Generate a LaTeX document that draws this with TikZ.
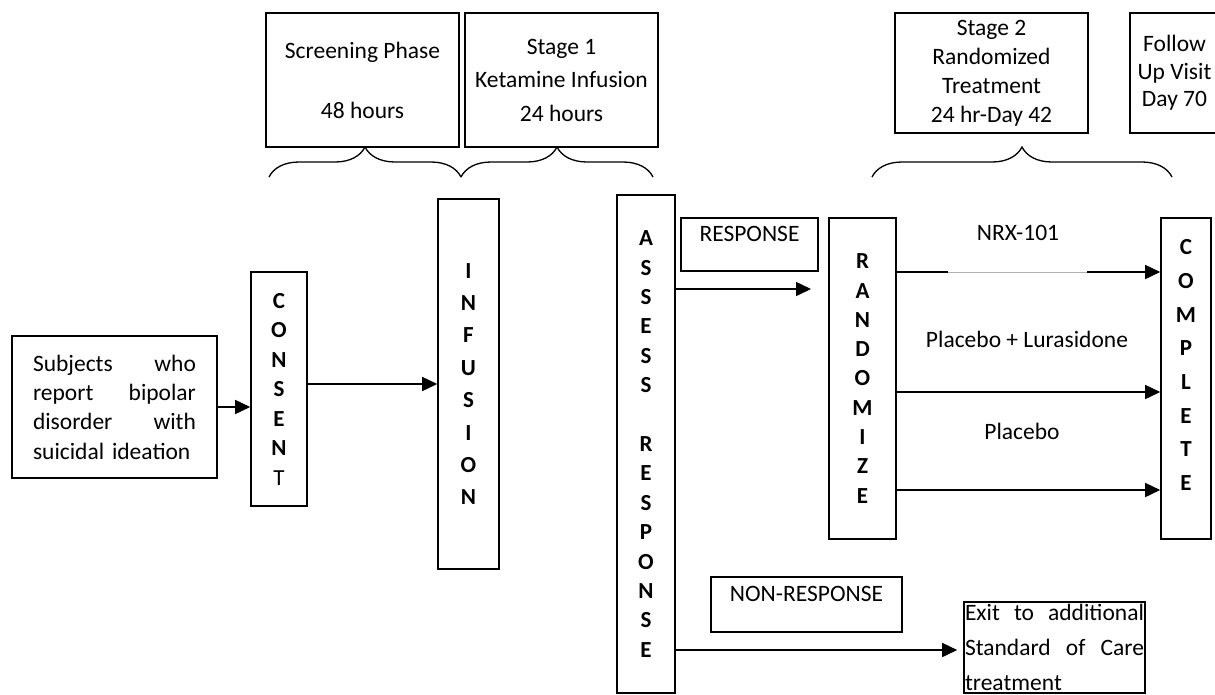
\documentclass[tikz,border=0pt]{standalone}
\usepackage{fontspec}
\setmainfont{Carlito}
\usetikzlibrary{arrows.meta, decorations.pathreplacing}

\begin{document}
\begin{tikzpicture}[x=1pt, y=-1pt,
  box/.style={draw, line width=1.6pt, inner sep=0pt, align=center, font=\fontsize{23.5}{#1}\selectfont},
  vbox/.style={draw, line width=1.6pt, inner sep=0pt, align=center, font=\bfseries\fontsize{23}{#1}\selectfont},
  lbl/.style={font=\fontsize{23.5}{28}\selectfont},
  arr/.style={-{Triangle[length=15pt, width=14pt]}, line width=1.6pt},
  brc/.style={decorate, decoration={brace, amplitude=30pt}, line width=1.3pt}]
\useasboundingbox (0,0) rectangle (1215,694);
\node[box=29.3, minimum width=205pt, minimum height=142pt, text width=163pt, align=left] (subjects) at (114.5,407) {Subjects\hfill who\\ report\hfill bipolar\\ disorder\hfill with\\ suicidal ideation};
\node[vbox=29.5, minimum width=56pt, minimum height=234pt] (consent) at (279,389) {C\\O\\N\\S\\E\\N\\{\mdseries T}};
\node[vbox=32.4, minimum width=61pt, minimum height=370pt] (infusion) at (468.5,384) {I\\N\\F\\U\\S\\I\\O\\N};
\node[vbox=29.4, minimum width=58pt, minimum height=498pt] (assess) at (646,444) {A\\S\\S\\E\\S\\S\\[29.4pt]R\\E\\S\\P\\O\\N\\S\\E};
\node[box=21, minimum width=137pt, minimum height=53pt] (response) at (749.5,244.5) {RESPONSE\\~};
\node[vbox=29.3, minimum width=67pt, minimum height=321pt] (randomize) at (862.5,378.5) {R\\A\\N\\D\\O\\M\\I\\Z\\E};
\node[vbox=33.7, minimum width=50pt, minimum height=321pt, label={[vbox=33.7, draw=none, yshift=13.5pt]center:{C\\O\\M\\P\\L\\E\\T\\E}}] (complete) at (1186,378.5) {};
\node[box=22, minimum width=191pt, minimum height=55pt] (nonresp) at (806.5,604.5) {NON-RESPONSE\\~};
\node[box=35, minimum width=181pt, minimum height=91pt, text width=179pt, align=left] (exit) at (1054.5,647.5) {Exit\hfill to\hfill additional\\ Standard\hfill of\hfill Care\\ treatment};

\node[box=30, minimum width=193pt, minimum height=134pt] (screening) at (362.5,80) {Screening Phase\\[30pt]48 hours};
\node[box=33.5, minimum width=193pt, minimum height=134pt] (stage1) at (561.5,80) {Stage 1\\ Ketamine Infusion\\ 24 hours};
\node[box=29, minimum width=193pt, minimum height=120pt] (stage2) at (991.5,73) {Stage 2\\ Randomized\\ Treatment\\ 24 hr-Day 42};
\node[box=27.5, minimum width=89pt, minimum height=120pt] (followup) at (1174.5,73) {Follow\\ Up Visit\\ Day 70};

\draw[brc] (269,177) -- (461,177);
\draw[brc] (461,177) -- (653,177);
\draw[brc] (872,177) -- (1172,177);

\node[lbl] (nrx) at (1018,233) {NRX-101};
\node[lbl] (plalur) at (1027,339) {Placebo + Lurasidone};
\node[lbl] (pla) at (1022,431) {Placebo};

\coordinate (respTip) at (811,289);
\draw[arr] (subjects.east) -- (subjects.east -| consent.west);
\draw[arr] (consent.east |- infusion.west) -- (infusion.west);
\draw[arr] (assess.east |- respTip) -- (respTip);
\draw[arr] ([yshift=106.5pt]randomize.east) -- ([yshift=106.5pt]randomize.east -| complete.west);
\draw[white, line width=2.4pt] (948,272) -- (1087,272);
\draw[black!30, line width=0.7pt] (948,272) -- (1087,272);
\draw[arr] ([yshift=-13.5pt]randomize.east) -- ([yshift=-13.5pt]randomize.east -| complete.west);
\draw[arr] ([yshift=-111.5pt]randomize.east) -- ([yshift=-111.5pt]randomize.east -| complete.west);
\draw[arr, shorten >=6pt] ([yshift=-206pt]assess.east) -- ([yshift=-206pt]assess.east -| exit.west);
\end{tikzpicture}
\end{document}
